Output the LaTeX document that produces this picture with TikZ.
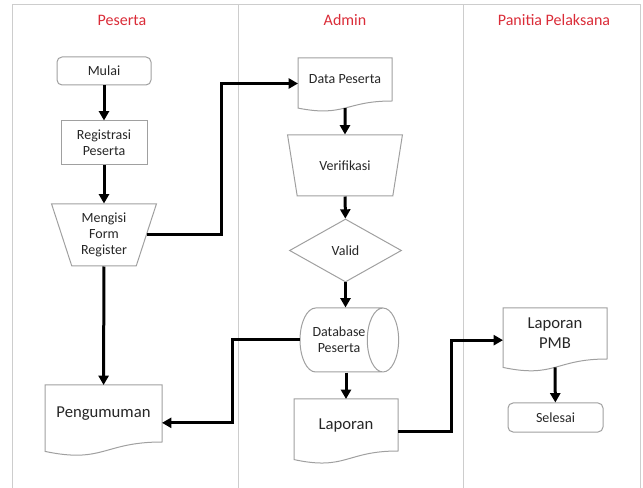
\documentclass[tikz,border=0pt]{standalone}
\usepackage{fontspec}
\setmainfont{Carlito}
\usetikzlibrary{arrows.meta,shapes.geometric,calc}

\definecolor{lanered}{RGB}{218,44,56}
\definecolor{boxgray}{RGB}{160,160,160}
\definecolor{lanegray}{RGB}{205,205,205}

% outline of a document box, plus a coordinate on its wavy edge
\newcommand{\docoutline}[1]{%
  \draw[boxgray,line width=0.75pt] let \p1=(#1.north west), \p2=(#1.south east) in
    (\x1,\y1) -- (\x2,\y1) -- (\x2,\y2)
    .. controls ({(\x1+\x2)/2},\y2) and ({(\x1+\x2)/2},{\y2-0.381*(\y1-\y2)}) ..
    (\x1,{\y2-0.165*(\y1-\y2)}) -- cycle;
  \path let \p1=(#1.north west), \p2=(#1.south east) in
    ({(\x1+\x2)/2},{\y2-0.163*(\y1-\y2)}) coordinate (#1 wave);
}

\begin{document}
\begin{tikzpicture}[x=0.75pt,y=-0.75pt,
  lane/.style={draw=lanegray,line width=0.75pt},
  lanetitle/.style={text=lanered,font=\fontsize{12}{14}\selectfont},
  shapeline/.style={draw=boxgray,line width=0.75pt,text=black!85,
    font=\fontsize{10.5}{12}\selectfont,align=center,inner sep=2pt},
  termbox/.style={shapeline,rectangle,rounded corners=3.75pt,
    minimum width=70.5pt,minimum height=21pt},
  procbox/.style={shapeline,rectangle,minimum width=64.5pt,minimum height=33pt},
  manbox/.style={shapeline,trapezium,shape border rotate=180,trapezium stretches=true},
  decbox/.style={shapeline,diamond,minimum width=84pt,minimum height=47.25pt},
  storebox/.style={shapeline,cylinder,aspect=1.1,inner sep=1pt,
    minimum width=48pt,minimum height=69pt},
  docbox/.style={rectangle,outer sep=0pt,inner sep=0pt,align=center,text=black!85,
    font=\fontsize{12.5}{15}\selectfont},
  flow/.style={line width=2.25pt,-{Triangle[length=7pt,width=7.5pt]}}]
\useasboundingbox (0,0) rectangle (643,488);

% lanes
\draw[lane] (12,488) -- (12,5) -- (640,5) -- (640,488);
\draw[lane] (238,5) -- (238,488);
\draw[lane] (463,5) -- (463,488);

\node[lanetitle] (peserta) at (122,20) {Peserta};
\node[lanetitle] (admin) at (345,20) {Admin};
\node[lanetitle] (panitia) at (554,20) {Panitia Pelaksana};

% Peserta
\node[termbox] (mulai) at (104,71) {Mulai};
\node[procbox] (reg) at (104,143) {Registrasi\\Peserta};
\node[manbox,minimum width=78.75pt,minimum height=46.5pt,
  trapezium left angle=72,trapezium right angle=72] (form) at (104,235) {Mengisi\\Form\\Register};
\node[docbox,minimum width=87.75pt,minimum height=42.75pt] (peng) at (103.5,413.5) {Pengumuman};
\docoutline{peng}

% Admin
\node[docbox,font=\fontsize{10.5}{12}\selectfont,minimum width=70.5pt,
  minimum height=32.25pt] (data) at (345,79.5) {Data Peserta};
\docoutline{data}
\node[manbox,minimum width=86.25pt,minimum height=45.75pt,
  trapezium left angle=69.4,trapezium right angle=69.4] (verif) at (345,165.5) {Verifikasi};
\node[decbox] (valid) at (345.5,250.5) {Valid};
\node[storebox] (db) at (339,340) {Database\\Peserta};
\node[docbox,minimum width=78pt,minimum height=39pt] (lap) at (346,425) {Laporan};
\docoutline{lap}

% Panitia Pelaksana
\node[docbox,minimum width=78pt,minimum height=38.25pt] (lpmb) at (555,333.5) {Laporan\\PMB};
\docoutline{lpmb}
\node[termbox,minimum width=71.25pt,minimum height=21.75pt] (selesai) at (555.5,417.5) {Selesai};

% flows
\draw[flow] (mulai) -- (reg);
\draw[flow] (reg) -- (form);
\draw[flow] (form.0) -- ++(75,0) |- ([yshift=-3pt]data.west);
\draw[flow] (form) -- (peng);
\draw[flow] (data wave) -- (verif);
\draw[flow] (verif) -- (valid);
\draw[flow] (valid) -- (valid |- db.north);
\draw[flow] (db.180) -- ++(-67,0) |- ([yshift=-7pt]peng.east);
\draw[flow] (lap |- db.south) -- (lap);
\draw[flow] ([yshift=-4.5pt]lap.east) -- ++(53,0) |- ([yshift=-5pt]lpmb.west);
\draw[flow] (lpmb wave) -- (selesai);
\end{tikzpicture}
\end{document}
